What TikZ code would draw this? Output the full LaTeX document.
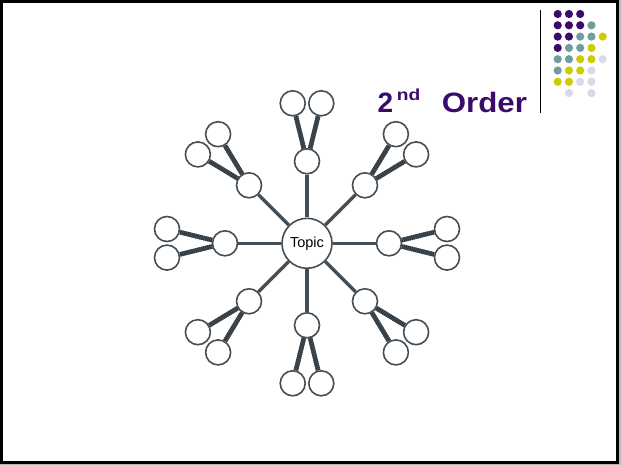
\documentclass[tikz,border=0pt]{standalone}
\usepackage{fontspec}
\setmainfont{Liberation Sans}
\usetikzlibrary{calc}
\definecolor{ttl}{HTML}{3B0B6B}
\definecolor{dpur}{HTML}{3D0A6B}
\definecolor{dteal}{HTML}{6E9E9E}
\definecolor{dyel}{HTML}{CCCC00}
\definecolor{dlav}{HTML}{D9D9EC}
\definecolor{edgec}{HTML}{454E55}
\definecolor{edged}{HTML}{2E363B}
\begin{document}
\begin{tikzpicture}[x=1pt,y=-1pt,
  topicnode/.style={circle,draw=edgec,line width=1.6pt,fill=white,minimum size=50pt,inner sep=0pt,font=\fontsize{14.5}{15}\selectfont},
  smallnode/.style={circle,draw=edgec,line width=1.6pt,fill=white,minimum size=25pt,inner sep=0pt},
  spoke/.style={draw=edgec,line width=3.3pt},
  twig/.style={draw=edgec,line width=4.6pt},
  twigtex/.style={draw=edged,line width=4.6pt,dash pattern=on 0.8pt off 1.2pt},
  titletext/.style={anchor=base west,inner sep=0pt,text=ttl},
  dot/.style={circle,inner sep=0pt,minimum size=8.2pt}]
\fill[gray!55] (0,0) rectangle (621,465);
\fill[black] (0,0) rectangle (618.5,463.5);
\fill[white] (3,3) rectangle (615.5,460.5);
\useasboundingbox (0,0) rectangle (621,465);
% title
\node[titletext,font=\fontsize{28}{30}\selectfont\bfseries] (two) at (377.3,112.3) {2};
\node[titletext,font=\fontsize{16}{18}\selectfont\bfseries,xscale=1.2] (nd) at (396.7,100.7) {nd};
\node[titletext,font=\fontsize{28}{30}\selectfont\bfseries,xscale=1.115] (ord) at (441.7,112.3) {Order};
% separator
\coordinate (s1) at (540.3,10);
\coordinate (s2) at (540.3,113);
\draw[black,line width=1pt] (s1) -- (s2);
% dots grid
\foreach \c/\r/\col in {0/0/dpur,1/0/dpur,2/0/dpur,
  0/1/dpur,1/1/dpur,2/1/dpur,3/1/dteal,
  0/2/dpur,1/2/dpur,2/2/dteal,3/2/dteal,4/2/dyel,
  0/3/dpur,1/3/dteal,2/3/dteal,3/3/dyel,
  0/4/dteal,1/4/dteal,2/4/dyel,3/4/dyel,4/4/dlav,
  0/5/dteal,1/5/dyel,2/5/dyel,3/5/dlav,
  0/6/dyel,1/6/dyel,2/6/dlav,3/6/dlav,
  1/7/dlav,3/7/dlav}
  \node[dot,fill=\col] (d\c\r) at (557.7+11.25*\c,14+11.3*\r) {};
% network
\node[topicnode] (T) at (307,243.3) {Topic};
\foreach \i in {0,...,7}{
  \pgfmathsetmacro{\ang}{45*\i}
  \node[smallnode] (f\i) at ($(T)+(\ang:82)$) {};
  \node[smallnode] (a\i) at ($(T)+(\ang:140)+(\ang+90:14.3)$) {};
  \node[smallnode] (b\i) at ($(T)+(\ang:140)+(\ang-90:14.3)$) {};
  \draw[spoke] (T) -- (f\i);
  \draw[twig] (f\i) -- (a\i);
  \draw[twig] (f\i) -- (b\i);
  \draw[twigtex] (f\i) -- (a\i);
  \draw[twigtex] (f\i) -- (b\i);
}
\end{tikzpicture}
\end{document}
